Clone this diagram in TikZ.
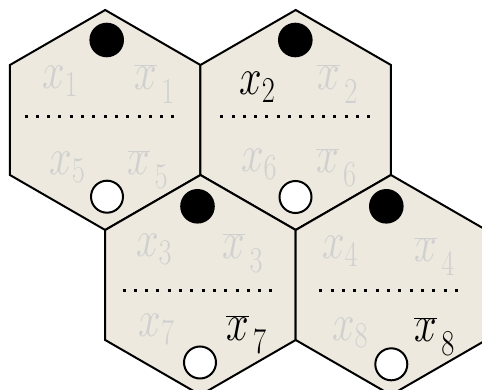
\documentclass[tikz,border=0pt]{standalone}
\usepackage{fix-cm}
\usepackage{graphicx}
\usepackage{xcolor}
\definecolor{hexfill}{RGB}{237,233,222}
\definecolor{lblgray}{RGB}{208,208,208}
\newcommand{\lab}[1]{\scalebox{0.78}[1]{$#1$}}
\newcommand{\nlab}[1]{\scalebox{0.78}[1]{$\overline{x}\mkern2mu_{\lower6pt\hbox{$\scriptstyle #1$}}$}}
\begin{document}
\begin{tikzpicture}[x=1pt,y=-1pt,
  hexcell/.style={fill=hexfill, draw=black, line width=2pt, line join=miter},
  lbl/.style={inner sep=0pt, outer sep=0pt, anchor=base west, font=\fontsize{52}{60}\selectfont},
  lbloff/.style={lbl, text=lblgray},
  lblon/.style={lbl, text=black},
  sepline/.style={line width=3pt, dash pattern=on 3pt off 8.3pt},
  fulldot/.style={circle, fill=black, minimum size=34.6pt, inner sep=0pt},
  emptydot/.style={circle, fill=white, draw=black, line width=2pt, minimum size=32pt, inner sep=0pt}]
\useasboundingbox (0,0) rectangle (482,390);
\clip (0,0) rectangle (482,390);
% hex centres
\coordinate (h1) at (105.2,120);
\coordinate (h2) at (295.7,120);
\coordinate (h3) at (200.45,285);
\coordinate (h4) at (390.95,285);
\foreach \h in {h1,h2,h3,h4}{
  \draw[hexcell] (\h) +(90:110) -- +(150:110) -- +(210:110) -- +(270:110) -- +(330:110) -- +(30:110) -- cycle;
}
% dotted separators
\coordinate (s1a) at (24.5,116.7);  \coordinate (s1b) at (174.5,116.7);
\coordinate (s2a) at (220.2,116.7); \coordinate (s2b) at (371.8,116.7);
\coordinate (s3a) at (122.5,290.7); \coordinate (s3b) at (272.8,290.7);
\coordinate (s4a) at (319.2,290.7); \coordinate (s4b) at (457.8,290.7);
\draw[sepline] (s1a) -- (s1b);
\draw[sepline] (s2a) -- (s2b);
\draw[sepline] (s3a) -- (s3b);
\draw[sepline] (s4a) -- (s4b);
% labels hex 1
\node[lbloff] (l1) at (42.0,88.3) {\lab{x_1}};
\node[lbloff] (l1b) at (134.3,89.3) {\nlab{1}};
\node[lbloff] (l5) at (49.3,175) {\lab{x_5}};
\node[lbloff] (l5b) at (127.6,175) {\nlab{5}};
% labels hex 2
\node[lblon] (l2) at (239.3,95) {\lab{x_2}};
\node[lbloff] (l2b) at (317.3,89.3) {\nlab{2}};
\node[lbloff] (l6) at (241,172) {\lab{x_6}};
\node[lbloff] (l6b) at (316,173) {\nlab{6}};
% labels hex 3
\node[lbloff] (l3) at (136,257) {\lab{x_3}};
\node[lbloff] (l3b) at (222.6,258.3) {\nlab{3}};
\node[lbloff] (l7) at (138.6,336.7) {\lab{x_7}};
\node[lblon] (l7b) at (226,340) {\nlab{7}};
% labels hex 4
\node[lbloff] (l4) at (322,258.3) {\lab{x_4}};
\node[lbloff] (l4b) at (414.3,261.7) {\nlab{4}};
\node[lbloff] (l8) at (332,340) {\lab{x_8}};
\node[lblon] (l8b) at (414.3,341.7) {\nlab{8}};
% dots
\node[fulldot] (b1) at (106.7,40) {};
\node[emptydot] (w1) at (107,196.7) {};
\node[fulldot] (b2) at (295.3,40) {};
\node[emptydot] (w2) at (295.5,197) {};
\node[fulldot] (b3) at (197.5,206.3) {};
\node[emptydot] (w3) at (200,362.5) {};
\node[fulldot] (b4) at (386.3,206.3) {};
\node[emptydot] (w4) at (391.3,364.3) {};
\end{tikzpicture}
\end{document}
